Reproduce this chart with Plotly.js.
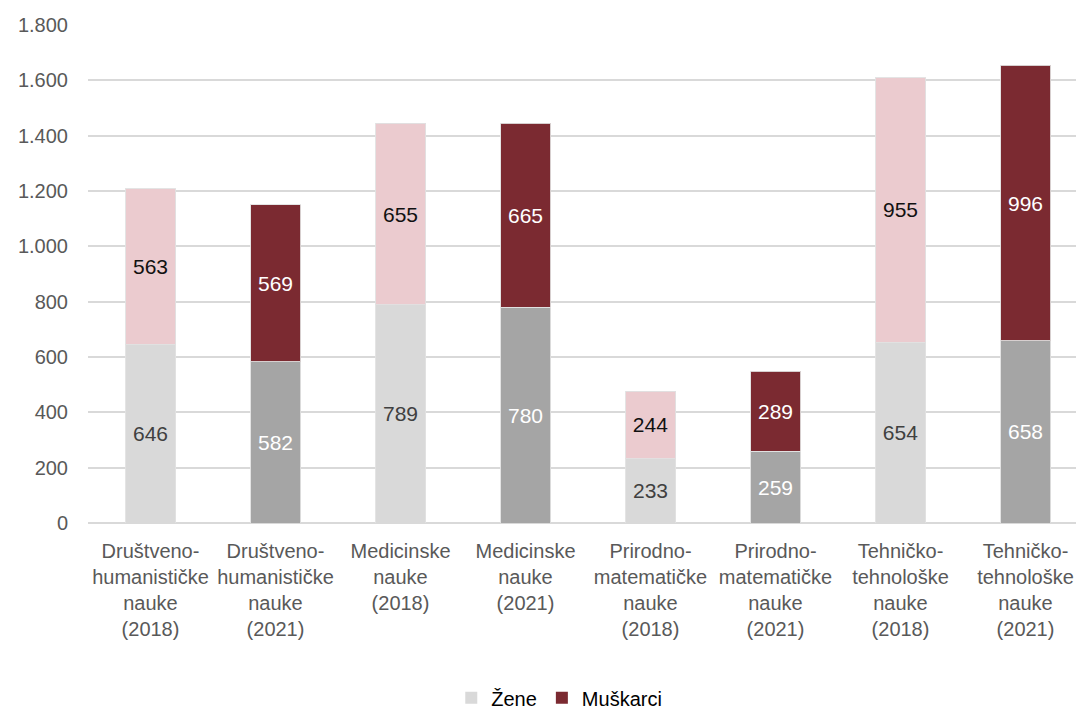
<!DOCTYPE html>
<html>
<head>
<meta charset="utf-8">
<script src="https://cdn.plot.ly/plotly-3.0.1.min.js"></script>
<style>html,body{margin:0;padding:0;background:#fff;}#chart{width:1076px;height:709px;}</style>
</head>
<body>
<div id="chart"></div>
<script>
const categories = [
  "Društveno-<br>humanističke<br>nauke<br>(2018)",
  "Društveno-<br>humanističke<br>nauke<br>(2021)",
  "Medicinske<br>nauke<br>(2018)",
  "Medicinske<br>nauke<br>(2021)",
  "Prirodno-<br>matematičke<br>nauke<br>(2018)",
  "Prirodno-<br>matematičke<br>nauke<br>(2021)",
  "Tehničko-<br>tehnološke<br>nauke<br>(2018)",
  "Tehničko-<br>tehnološke<br>nauke<br>(2021)"
];
const zene = [646, 582, 789, 780, 233, 259, 654, 658];
const muskarci = [563, 569, 655, 665, 244, 289, 955, 996];
const seriesNames = ["Žene", "Muškarci"];
const yTicks = [0, 200, 400, 600, 800, 1000, 1200, 1400, 1600, 1800];

const zeneColors = categories.map((c, i) => i % 2 === 0 ? "#d9d9d9" : "#a5a5a5");
const muskColors = categories.map((c, i) => i % 2 === 0 ? "#ebcbcf" : "#7b2a31");
const zeneText = categories.map((c, i) => i % 2 === 0 ? "#404040" : "#ffffff");
const muskText = categories.map((c, i) => i % 2 === 0 ? "#111111" : "#ffffff");

const common = {
  type: "bar",
  x: categories,
  textposition: "inside",
  insidetextanchor: "middle",
  textangle: 0,
  constraintext: "none",
  texttemplate: "%{y}",
  hoverinfo: "skip",
  showlegend: false
};

const traces = [
  Object.assign({}, common, {
    name: seriesNames[0], y: zene,
    marker: {color: zeneColors, line: {color: "rgba(225,225,225,0.9)", width: 1}},
    textfont: {family: "Liberation Sans, Arial, sans-serif", size: 21, color: zeneText}
  }),
  Object.assign({}, common, {
    name: seriesNames[1], y: muskarci,
    marker: {color: muskColors, line: {color: "rgba(225,225,225,0.9)", width: 1}},
    textfont: {family: "Liberation Sans, Arial, sans-serif", size: 21, color: muskText}
  }),
  {type: "bar", name: seriesNames[0], x: [categories[0]], y: [null], marker: {color: "#d9d9d9"}, showlegend: true, hoverinfo: "skip"},
  {type: "bar", name: seriesNames[1], x: [categories[0]], y: [null], marker: {color: "#7b2a31"}, showlegend: true, hoverinfo: "skip"}
];

const layout = {
  width: 1076, height: 709,
  margin: {l: 88, r: 0, t: 25, b: 186, autoexpand: false},
  paper_bgcolor: "#fff", plot_bgcolor: "#fff",
  barmode: "stack",
  bargap: 0.6,
  separators: ",.",
  showlegend: true,
  xaxis: {
    type: "category",
    range: [-0.5, 7.404],
    tickfont: {family: "Liberation Sans Narrow, Arial Narrow, Liberation Sans, sans-serif", size: 20, color: "#595959"},
    ticks: "",
    ticklabelstandoff: 14,
    showgrid: false, showline: false, zeroline: false
  },
  yaxis: {
    range: [0, 1800],
    tickvals: yTicks,
    tickformat: ",d",
    tickfont: {family: "Liberation Sans, Arial, sans-serif", size: 20, color: "#595959"},
    ticks: "",
    ticklabelstandoff: 19,
    showgrid: true, gridcolor: "#d9d9d9", gridwidth: 2,
    zeroline: true, zerolinecolor: "#d9d9d9", zerolinewidth: 2,
    showline: false
  },
  legend: {
    orientation: "h",
    x: 0.477, xanchor: "center",
    y: -0.351, yanchor: "middle",
    font: {family: "Liberation Sans Narrow, Arial Narrow, Liberation Sans, sans-serif", size: 20, color: "#000"},
    traceorder: "normal",
    itemclick: false
  }
};

Plotly.newPlot("chart", traces, layout, {staticPlot: true, displayModeBar: false});
</script>
</body>
</html>
